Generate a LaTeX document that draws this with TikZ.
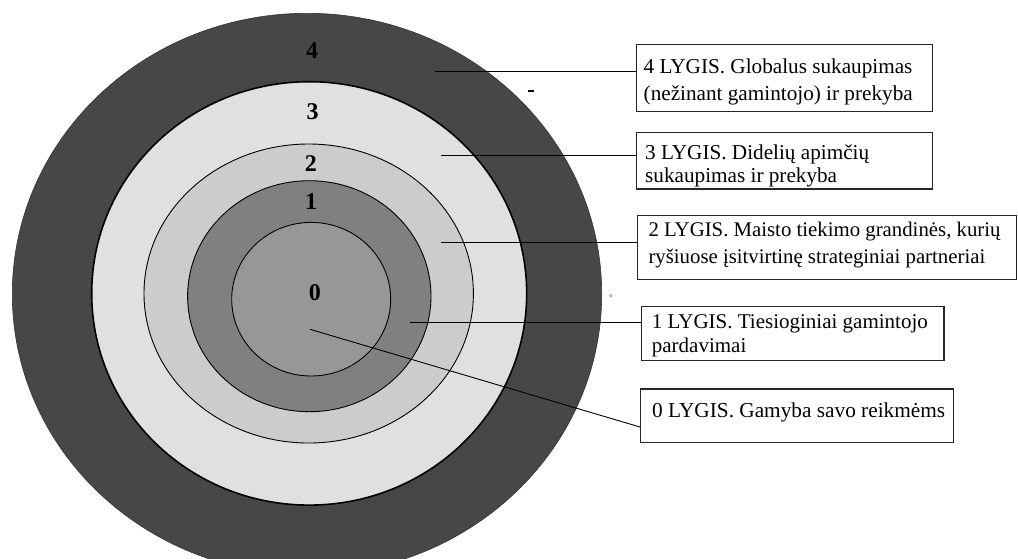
\documentclass[tikz,border=0pt]{standalone}
\usepackage{fontspec}
\setmainfont{Liberation Serif}
\usetikzlibrary{calc}

% ring fills, outermost to innermost
\definecolor{ringfour}{HTML}{474747}
\definecolor{ringthree}{HTML}{E0E0E0}
\definecolor{ringtwo}{HTML}{CCCCCC}
\definecolor{ringone}{HTML}{808080}
\definecolor{ringzero}{HTML}{979797}

\begin{document}
\begin{tikzpicture}[x=1pt,y=-1pt,
  lvlbox/.style={draw=black!85, line width=1.2pt, inner sep=0pt, anchor=north west},
  lvltext/.style={anchor=north west, inner sep=0pt, align=left},
  ringnum/.style={font=\fontsize{24}{24}\selectfont\bfseries, inner sep=0pt},
  ringedge/.style={draw=black, line width=0.9pt},
  leader/.style={draw=black, line width=0.9pt}]

\useasboundingbox (0,0) rectangle (1018,558);
\fill[white] (0,0) rectangle (1018,558);

% concentric levels
\begin{scope}
  \clip (0,0) rectangle (1018,558);
  \filldraw[fill=ringfour, draw=black!80, line width=0.6pt]
    (307,294) ellipse [x radius=294.7, y radius=280.7];
  \filldraw[fill=ringthree, ringedge, line width=1.6pt]
    (309.2,293.4) ellipse [x radius=217.5, y radius=211.7];
  \filldraw[fill=ringtwo, ringedge]
    (308.7,293.5) ellipse [x radius=164.7, y radius=149.5];
  \filldraw[fill=ringone, ringedge]
    (309.3,296.2) ellipse [x radius=121.7, y radius=115.5];
  \filldraw[fill=ringzero, ringedge]
    (311.2,299.2) ellipse [x radius=79.5, y radius=76.8];
\end{scope}

% small stray marks
\fill[black] (528,90) rectangle (534,92);
\draw[gray, line width=0.5pt] (610.7,295.7) circle [radius=1.3];

% level numbers
\node[ringnum] (n4) at (312,51) {4};
\node[ringnum] (n3) at (312.7,112) {3};
\node[ringnum] (n2) at (310.8,163.3) {2};
\node[ringnum] (n1) at (311,201.8) {1};
\node[ringnum] (n0) at (314.8,292.5) {0};

% description boxes
\node[lvlbox, minimum width=296, minimum height=66.7] (b4) at (635.7,44) {};
\node[lvlbox, minimum width=296, minimum height=56.6] (b3) at (635.7,131.7) {};
\node[lvlbox, minimum width=379.3, minimum height=64] (b2) at (636.7,215) {};
\node[lvlbox, minimum width=302.3, minimum height=54] (b1) at (641,306) {};
\node[lvlbox, minimum width=312.7, minimum height=53.4] (b0) at (640,388.3) {};

\node[lvltext, font=\fontsize{21.2}{27}\selectfont] (t4) at (643.5,58.5)
  {4 LYGIS. Globalus sukaupimas\\(nežinant gamintojo) ir prekyba};
\node[lvltext, font=\fontsize{21.2}{23.5}\selectfont] (t3) at (645,144.5)
  {3 LYGIS. Didelių apimčių\\sukaupimas ir prekyba};
\node[lvltext, font=\fontsize{20.8}{26.7}\selectfont] (t2) at (648.3,221.7)
  {2 LYGIS. Maisto tiekimo grandinės, kurių\\ryšiuose įsitvirtinę strateginiai partneriai};
\node[lvltext, font=\fontsize{21}{23.7}\selectfont] (t1) at (651.7,314.7)
  {1 LYGIS. Tiesioginiai gamintojo\\pardavimai};
\node[lvltext, font=\fontsize{21.3}{24}\selectfont] (t0) at (652,403)
  {0 LYGIS. Gamyba savo reikmėms};

% leader lines from each level to its box
\coordinate (s4) at (434.7,71);
\coordinate (s3) at (441,155.5);
\coordinate (s2) at (441,242.5);
\coordinate (s1) at (410,322.7);
\coordinate (s0) at (310,329.3);
\coordinate (e0) at ($(b0.north west)+(0,38.7)$);

\draw[leader] (s4) -- (s4 -| b4.west);
\draw[leader] (s3) -- (s3 -| b3.west);
\draw[leader] (s2) -- (s2 -| b2.west);
\draw[leader] (s1) -- (s1 -| b1.west);
\draw[leader] (s0) -- (e0);

\end{tikzpicture}
\end{document}
